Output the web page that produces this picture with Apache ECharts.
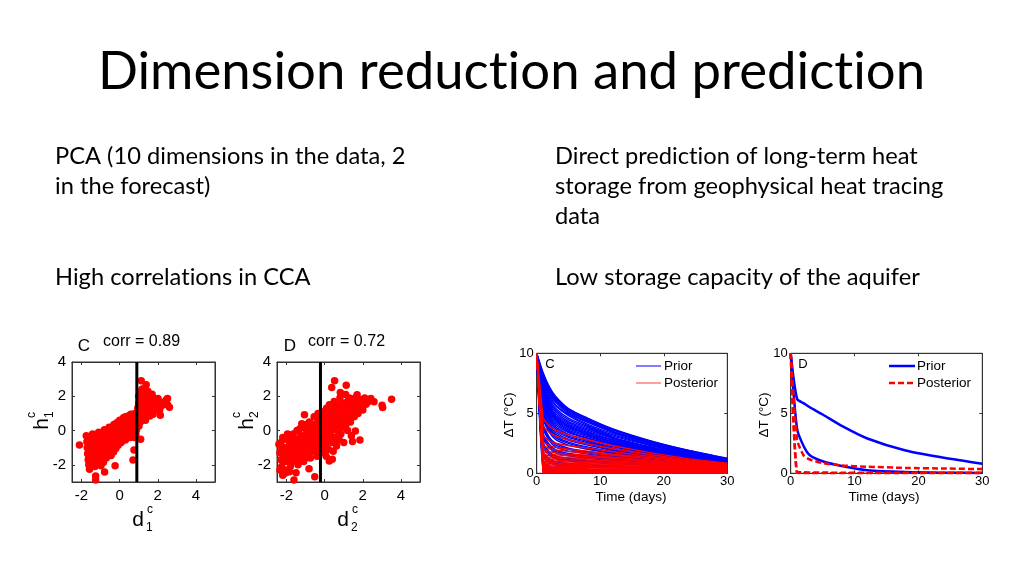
<!DOCTYPE html>
<html><head><meta charset="utf-8">
<script src="https://cdn.jsdelivr.net/npm/echarts@6/dist/echarts.min.js"></script>
<style>html,body{margin:0;padding:0;background:#fff}#c{width:1024px;height:576px}</style>
</head><body><div id="c"></div>
<script>
// ---------------- texts ----------------
const titleText = 'Dimension reduction and prediction';
const leftLines = ['PCA (10 dimensions in the data, 2', 'in the forecast)'];
const leftNote = 'High correlations in CCA';
const rightLines = ['Direct prediction of long-term heat', 'storage from geophysical heat tracing', 'data'];
const rightNote = 'Low storage capacity of the aquifer';
const panelC = 'C', panelD = 'D';
const corrC = 'corr = 0.89', corrD = 'corr = 0.72';
const timeLabel = 'Time (days)';
const dTLabel = '\u0394T (\u00B0C)';
const legendPrior = 'Prior', legendPosterior = 'Posterior';

// ---------------- scatter data (canonical variates) ----------------
const scatterC = [
[-2.11,-0.84],[-1.75,-0.3],[-1.72,-0.65],[-1.7,-1.0],[-1.68,-1.35],[-1.65,-1.7],[-1.62,-2.0],[-1.58,-2.26],
[-1.55,-0.5],[-1.52,-0.85],[-1.5,-1.2],[-1.48,-1.55],[-1.45,-1.9],[-1.42,-0.2],[-1.4,-0.6],[-1.38,-1.05],
[-1.35,-1.4],[-1.32,-1.75],[-1.3,-2.1],[-1.26,-2.65],[-1.26,-2.88],[-1.25,-0.35],[-1.22,-0.8],[-1.2,-1.2],
[-1.18,-1.6],[-1.15,-1.95],[-1.1,-0.1],[-1.08,-0.55],[-1.05,-1.0],[-1.02,-1.4],[-1.0,-1.75],[-0.98,-2.05],
[-0.95,-0.3],[-0.92,-0.75],[-0.9,-1.15],[-0.88,-1.55],[-0.85,-1.85],[-0.79,-2.42],[-0.8,0.05],[-0.78,-0.45],
[-0.75,-0.9],[-0.72,-1.3],[-0.7,-1.6],[-0.65,-0.15],[-0.62,-0.6],[-0.6,-1.05],[-0.58,-1.4],[-0.55,0.2],
[-0.52,-0.3],[-0.5,-0.8],[-0.48,-1.2],[-0.45,-1.45],[-0.4,0.1],[-0.38,-0.45],[-0.35,-0.95],[-0.32,-1.25],
[-0.3,0.35],[-0.25,-0.15],[-0.24,-2.05],[-0.22,-0.65],[-0.2,-1.05],[-0.15,0.45],[-0.12,0.05],[-0.1,-0.4],
[-0.08,-0.85],[0.0,0.6],[0.02,0.2],[0.05,-0.25],[0.08,-0.7],[0.12,0.45],[0.15,0.05],[0.18,-0.4],
[0.2,0.75],[0.25,0.3],[0.28,-0.1],[0.3,-0.55],[0.35,0.6],[0.4,0.2],[0.42,-0.25],[0.45,0.85],
[0.5,0.45],[0.52,0.0],[0.55,-0.4],[0.6,0.7],[0.62,0.3],[0.65,-0.1],[0.7,0.95],[0.7,-1.72],
[0.72,0.5],[0.75,0.1],[0.75,-1.13],[0.78,-0.4],[0.8,0.8],[0.82,1.0],[0.85,0.35],[0.85,-0.2],
[-1.6,-0.4],[-1.6,-1.15],[-1.55,-1.45],[-1.45,-0.35],[-1.45,-1.05],[-1.4,-1.65],[-1.35,-0.45],[-1.3,-0.95],
[-1.3,-1.25],[-1.2,-0.5],[-1.15,-0.95],[-1.12,-1.35],[-1.1,-1.7],[-1.05,-0.3],[-1.0,-0.75],[-0.98,-1.2],
[-0.9,-0.5],[-0.85,-1.0],[-0.82,-1.35],[-0.75,-0.2],[-0.72,-0.65],[-0.68,-1.1],[-0.62,-1.45],[-0.6,-0.35],
[-0.55,-0.75],[-0.52,-1.1],[-0.45,-0.15],[-0.42,-0.6],[-0.4,-1.05],[-0.35,0.2],[-0.3,-0.3],[-0.28,-0.8],
[-0.2,0.15],[-0.18,-0.35],[-0.15,-0.75],[-0.05,0.3],[-0.02,-0.15],[0.0,-0.55],[0.08,0.4],[0.1,-0.1],
[0.12,-0.45],[0.22,0.5],[0.22,0.05],[0.3,0.8],[0.32,0.1],[0.38,-0.3],[0.45,0.6],[0.48,0.2],
[0.58,0.95],[0.6,0.05],[0.68,0.6],[0.7,-0.3],[0.78,0.6],[0.8,0.2],[0.88,0.9],[0.88,0.05],
[0.95,1.3],[0.95,0.6],[1.0,2.0],[1.01,0.27],[1.02,1.7],[1.05,1.0],[1.1,-0.51],[1.1,2.3],
[1.12,1.45],[1.13,2.9],[1.15,0.7],[1.18,2.42],[1.2,1.64],[1.22,1.15],[1.25,1.95],[1.27,0.9],
[1.3,1.4],[1.32,2.15],[1.35,0.6],[1.39,2.67],[1.4,1.7],[1.42,1.1],[1.44,1.83],[1.5,1.45],
[1.51,1.25],[1.55,2.0],[1.58,0.85],[1.6,1.6],[1.65,1.2],[1.7,2.12],[1.72,1.75],[1.75,0.95],
[1.79,1.44],[1.85,1.85],[1.9,1.3],[1.95,1.6],[2.01,1.87],[2.04,1.54],[2.1,1.2],[2.13,0.9],
[2.51,1.87],[2.51,1.5],[2.61,1.36],
[0.98,1.05],[1.0,1.5],[1.05,1.8],[1.08,0.5],[1.12,1.2],[1.15,2.0],[1.2,0.95],[1.25,1.6],
[1.28,2.4],[1.3,1.05],[1.35,1.85],[1.38,1.3],[1.45,1.5],[1.48,2.3],[1.52,1.0],[1.58,1.75],
[1.62,1.35],[1.68,1.9],[1.7,1.5],[1.78,1.6],[1.82,1.2],[1.88,1.55],[1.98,1.4],[2.05,1.7],
[2.2,1.45],[2.3,1.65],[2.45,1.8]
];
const cutC = 0.9;

const scatterD = [
[-2.4,-0.8],[-2.35,-1.3],[-2.3,-1.7],[-2.29,-0.7],[-2.25,-2.1],[-2.2,-1.0],[-2.15,-1.5],[-2.1,-2.3],
[-2.03,-2.46],[-2.0,-0.5],[-1.95,-1.2],[-1.9,-1.8],[-1.85,-0.8],[-1.8,-2.1],[-1.75,-1.4],[-1.7,-0.3],
[-1.65,-1.0],[-1.61,-2.88],[-1.6,-1.7],[-1.55,-0.6],[-1.5,-2.46],[-1.5,-1.25],[-1.45,0.0],[-1.4,-2.0],
[-1.35,-0.9],[-1.3,-1.5],[-1.25,-0.3],[-1.2,0.4],[-1.15,-1.1],[-1.1,-1.8],[-1.06,0.92],[-1.05,-0.6],
[-1.0,0.1],[-0.95,-1.4],[-0.9,-0.2],[-0.85,-0.9],[-0.82,-2.22],[-0.8,0.5],[-0.75,-1.6],[-0.7,-0.5],
[-0.65,0.2],[-0.6,-1.2],[-0.55,0.8],[-0.52,-2.69],[-0.5,-0.1],[-0.45,-0.8],[-0.4,-1.5],[-0.38,0.45],
[-0.35,1.0],[-0.3,-0.4],[-0.28,-1.1],[-0.25,0.15],[-0.2,0.7],[-0.15,-0.7],[-0.1,-1.3],[-0.08,0.3],
[-0.05,1.1],[0.0,-0.2],[0.02,0.6],[0.05,-0.9],[0.08,-1.5],[0.1,1.3],[0.12,0.1],[0.15,0.9],
[0.18,-0.5],[0.2,-1.1],[0.22,0.4],[0.24,-1.77],[0.25,1.5],[0.3,-0.1],[0.32,0.75],[0.35,-0.7],
[0.37,2.51],[0.38,1.2],[0.4,-1.68],[0.42,0.2],[0.45,-1.2],[0.5,1.7],[0.52,2.9],[0.52,0.55],
[0.55,-0.4],[0.6,1.0],[0.62,-0.9],[0.65,0.0],[0.7,1.4],[0.72,0.4],[0.75,-0.5],[0.8,1.9],
[0.82,2.22],[0.82,0.8],[0.85,-0.2],[0.9,1.2],[0.95,0.2],[1.0,1.6],[1.0,-0.7],[1.05,0.7],
[1.1,2.1],[1.13,2.65],[1.15,1.0],[1.2,0.0],[1.25,1.4],[1.3,1.9],[1.35,0.5],[1.4,-0.3],
[1.45,1.2],[1.46,-0.64],[1.5,1.7],[1.55,0.8],[1.61,-0.02],[1.65,1.5],[1.7,2.09],[1.75,1.0],
[1.8,1.8],[1.85,-0.55],[1.9,1.3],[2.0,1.6],[2.1,1.9],[2.17,1.54],[2.3,1.7],[2.42,1.87],
[2.59,1.68],[3.01,1.48],[3.04,1.35],[3.51,1.83],
[-2.3,-1.2],[-2.2,-0.4],[-2.1,-1.8],[-2.05,-1.0],[-1.95,-0.2],[-1.9,-1.5],[-1.8,-0.6],[-1.75,-1.1],
[-1.7,-1.8],[-1.65,-0.2],[-1.6,-0.9],[-1.55,-1.4],[-1.45,-0.5],[-1.4,-1.1],[-1.35,-1.8],[-1.3,0.1],
[-1.25,-0.7],[-1.2,-1.3],[-1.1,-0.3],[-1.05,-1.0],[-1.0,-1.6],[-0.95,0.35],[-0.9,-0.6],[-0.85,-1.25],
[-0.8,-0.1],[-0.75,-0.8],[-0.7,0.15],[-0.65,-1.0],[-0.6,-0.3],[-0.55,0.35],[-0.5,-0.6],[-0.45,-1.25],
[-0.4,0.1],[-0.35,-0.4],[-0.3,0.6],[-0.25,-0.9],[-0.2,0.0],[-0.15,0.9],[-0.1,-0.45],[-0.05,0.5],
[0.0,-1.1],[0.05,0.2],[0.1,-0.6],[0.15,1.1],[0.2,0.5],[0.25,-0.3],[0.3,1.0],[0.35,0.3],
[0.4,-0.4],[0.45,1.3],[0.5,0.2],[0.55,0.8],[0.6,1.5],[0.65,-0.6],[0.7,0.7],[0.75,1.1],
[0.8,0.3],[0.9,1.6],[0.95,0.6],[1.05,1.3],[1.1,0.3],[1.2,1.7],[1.25,0.7],[1.35,1.1],
[1.4,1.6],[1.55,1.3],[1.6,1.9],[1.7,1.2],[1.85,1.55],[1.95,1.8],[2.0,1.2],[2.2,1.75],
[-2.35,-2.3],[-1.85,-2.4],[-2.2,-2.6]
];
const cutD = -0.22;

// ---------------- temperature curves ----------------
const timeDays = [0, 1, 2, 3, 5, 8, 12, 18, 24, 30];
const priorC = [
[10,8.4,7.2,6.4,5.4,4.6,3.7,2.7,1.9,1.25],
[10,8.3,7.1,6.3,5.35,4.55,3.65,2.65,1.88,1.22],
[10,8.2,7.0,6.2,5.3,4.5,3.6,2.6,1.85,1.2],
[10,8.1,6.9,6.1,5.2,4.4,3.5,2.55,1.8,1.18],
[10,8.0,6.8,6.0,5.1,4.3,3.4,2.5,1.75,1.15],
[10,7.9,6.6,5.9,5.0,4.25,3.45,2.5,1.78,1.18],
[10,7.8,6.5,5.7,4.9,4.1,3.3,2.4,1.7,1.1],
[10,7.7,6.4,5.6,4.8,4.0,3.2,2.35,1.65,1.08],
[10,7.5,6.2,5.4,4.6,3.9,3.1,2.3,1.6,1.05],
[10,7.35,6.05,5.25,4.45,3.8,3.0,2.2,1.55,1.02],
[10,7.2,5.9,5.1,4.3,3.7,2.95,2.15,1.5,1.0],
[10,7.1,5.75,4.95,4.2,3.6,2.9,2.1,1.48,0.98],
[10,7.0,5.6,4.8,4.1,3.5,2.8,2.05,1.45,0.95],
[10,6.9,5.5,4.7,4.0,3.4,2.75,2.0,1.4,0.92],
[10,6.8,5.4,4.6,3.9,3.3,2.65,1.95,1.38,0.9],
[10,6.7,5.3,4.5,3.8,3.25,2.6,1.9,1.35,0.9],
[10,6.55,5.15,4.4,3.7,3.15,2.5,1.85,1.32,0.88],
[10,6.4,5.0,4.3,3.6,3.05,2.45,1.8,1.3,0.88],
[10,6.2,4.85,4.15,3.5,2.95,2.38,1.75,1.25,0.86],
[10,6.0,4.7,4.0,3.4,2.9,2.3,1.7,1.2,0.85],
[10,5.85,4.55,3.85,3.25,2.75,2.2,1.65,1.18,0.82],
[10,5.7,4.4,3.7,3.1,2.65,2.1,1.6,1.15,0.8],
[10,5.5,4.2,3.55,3.0,2.55,2.05,1.55,1.1,0.78],
[10,5.3,4.0,3.4,2.85,2.45,1.95,1.45,1.05,0.75],
[10,5.15,3.85,3.25,2.75,2.35,1.9,1.4,1.02,0.72],
[10,5.0,3.7,3.1,2.6,2.2,1.8,1.35,1.0,0.7],
[10,4.8,3.55,2.95,2.5,2.1,1.72,1.3,0.98,0.7],
[10,4.6,3.4,2.8,2.35,2.0,1.65,1.25,0.95,0.68],
[10,4.2,3.0,2.5,2.1,1.8,1.5,1.15,0.9,0.65],
[10,4.0,2.85,2.35,2.0,1.7,1.42,1.1,0.86,0.62],
[10,3.8,2.7,2.2,1.85,1.6,1.35,1.05,0.82,0.6],
[10,3.4,2.4,1.95,1.65,1.45,1.2,0.95,0.75,0.55],
[10,3.2,2.25,1.82,1.55,1.35,1.12,0.9,0.72,0.52],
[10,3.0,2.1,1.7,1.45,1.25,1.05,0.85,0.68,0.5],
[10,2.6,1.8,1.45,1.25,1.1,0.92,0.75,0.6,0.45],
[10,2.4,1.65,1.32,1.15,1.0,0.86,0.7,0.56,0.42],
[10,2.2,1.5,1.2,1.05,0.92,0.8,0.65,0.52,0.4],
[10,1.8,1.2,0.95,0.82,0.72,0.62,0.52,0.42,0.33],
[10,1.6,1.05,0.82,0.7,0.62,0.54,0.45,0.36,0.29],
[10,1.4,0.9,0.7,0.6,0.52,0.45,0.38,0.3,0.25],
[10,1.0,0.6,0.45,0.38,0.33,0.28,0.23,0.19,0.15],
[10,0.8,0.45,0.32,0.26,0.22,0.19,0.16,0.13,0.1],
[10,0.6,0.3,0.2,0.15,0.12,0.1,0.08,0.06,0.05],
[10,0.2,0.05,0.02,0.01,0,0,0,0,0]
];
const posteriorC = [
[10,4.6,3.9,3.6,3.2,2.8,2.3,1.7,1.2,0.85],
[10,3.9,3.4,3.1,2.8,2.45,2.05,1.55,1.12,0.8],
[10,3.1,2.7,2.5,2.3,2.1,1.8,1.4,1.05,0.75],
[10,2.6,2.3,2.15,2.0,1.85,1.6,1.3,0.98,0.72],
[10,2.3,2.05,1.95,1.82,1.7,1.5,1.2,0.92,0.68],
[10,2.0,1.8,1.7,1.6,1.5,1.35,1.1,0.85,0.64],
[10,1.8,1.62,1.55,1.46,1.38,1.25,1.02,0.8,0.6],
[10,1.6,1.45,1.38,1.3,1.24,1.12,0.95,0.75,0.56],
[10,1.45,1.3,1.24,1.18,1.12,1.02,0.86,0.7,0.53],
[10,1.3,1.17,1.1,1.05,1.0,0.92,0.8,0.65,0.5],
[10,1.15,1.04,0.98,0.94,0.9,0.83,0.72,0.6,0.47],
[10,1.0,0.92,0.87,0.83,0.8,0.74,0.65,0.55,0.44],
[10,0.9,0.82,0.78,0.74,0.71,0.66,0.58,0.5,0.4],
[10,0.78,0.71,0.68,0.65,0.62,0.58,0.52,0.45,0.37],
[10,0.68,0.62,0.59,0.56,0.54,0.5,0.45,0.4,0.34],
[10,0.58,0.53,0.5,0.48,0.46,0.43,0.39,0.35,0.3],
[10,0.48,0.44,0.42,0.4,0.38,0.36,0.33,0.3,0.26],
[10,0.4,0.36,0.34,0.32,0.31,0.29,0.27,0.24,0.22],
[10,0.32,0.29,0.27,0.26,0.25,0.23,0.21,0.19,0.17],
[10,0.25,0.22,0.2,0.19,0.18,0.17,0.16,0.14,0.13],
[10,0.18,0.16,0.15,0.14,0.13,0.12,0.11,0.1,0.09],
[10,0.1,0.09,0.08,0.07,0.07,0.06,0.06,0.05,0.05],
[10,0.04,0.03,0.02,0.02,0.01,0.01,0.01,0.01,0.01]
];
const priorD = [
[10,6.2,5.85,5.5,4.9,3.95,2.9,1.9,1.3,0.8],
[10,3.7,2.3,1.5,1.0,0.6,0.25,0.1,0.05,0.03]
];
const posteriorD = [
[10,2.8,1.5,1.15,0.85,0.65,0.55,0.45,0.4,0.35],
[10,0.12,0.08,0.07,0.06,0.05,0.05,0.05,0.05,0.05],
[10,0.02,0.01,0,0,0,0,0,0,0]
];

// keep glyphs un-ligated (the slide font has no "ti"/"fi" ligatures)
(function () {
  const P = CanvasRenderingContext2D.prototype, of = P.fillText;
  P.fillText = function () { try { this.textRendering = 'optimizeSpeed'; this.letterSpacing = '0.01px'; } catch (e) {} return of.apply(this, arguments); };
})();

// ---------------- layout helpers ----------------
const mctx = document.createElement('canvas').getContext('2d');
function fitSize(text, fam, w) { mctx.font = '100px ' + fam; return 100 * w / mctx.measureText(text).width; }
const SLIDE_FONT = 'Lato';
const titleSize = fitSize(titleText, SLIDE_FONT, 829);
const bodySize = fitSize(rightLines[0], SLIDE_FONT, 363);
const AX_FONT = 'Liberation Sans, Arial, sans-serif';

function txt(x, y, t, size, opt) {
  opt = opt || {};
  return { type: 'text', x: x, y: y, rotation: opt.rot || 0, silent: true, z: 100,
    style: { text: t, fontSize: size, fontFamily: opt.font || AX_FONT, fill: '#000',
      textAlign: opt.align || 'left', textVerticalAlign: 'middle' } };
}

const grids = [
  { left: 72, top: 362, width: 143, height: 120 },
  { left: 277, top: 362, width: 143, height: 120 },
  { left: 536.7, top: 353.3, width: 190.6, height: 120 },
  { left: 790.7, top: 353.3, width: 191.6, height: 120 }
].map(g => Object.assign({ show: true, borderColor: '#333', borderWidth: 1, backgroundColor: '#fff' }, g));

const xAxes = [], yAxes = [];
function addAxes(gi, xr, yr, fontSize, tickLen, xMargin, yMargin, xInt, yInt) {
  const common = { gridIndex: gi, type: 'value', splitLine: { show: false },
    axisLine: { show: true, onZero: false, lineStyle: { color: '#333', width: 1 } },
    axisTick: { show: true, inside: true, length: tickLen, lineStyle: { color: '#333' } } };
  const xb = Object.assign({}, common, { position: 'bottom', min: xr[0], max: xr[1],
    axisLabel: { fontSize: fontSize, color: '#000', fontFamily: AX_FONT, margin: xMargin, showMinLabel: xr[2], showMaxLabel: xr[3] } });
  const yb = Object.assign({}, common, { position: 'left', min: yr[0], max: yr[1],
    axisLabel: { fontSize: fontSize, color: '#000', fontFamily: AX_FONT, margin: yMargin, showMinLabel: yr[2], showMaxLabel: yr[3] } });
  if (xInt) xb.interval = xInt; else xb.splitNumber = 4;
  if (yInt) yb.interval = yInt; else yb.splitNumber = 4;
  const xt = Object.assign({}, xb, { position: 'top', axisLabel: { show: false } });
  const yr2 = Object.assign({}, yb, { position: 'right', axisLabel: { show: false } });
  xAxes.push(xb, xt); yAxes.push(yb, yr2);
}
addAxes(0, [-2.5, 5, false, false], [-3, 4, false, true], 15, 3, 6, 6);
addAxes(1, [-2.5, 5, false, false], [-3, 4, false, true], 15, 3, 6, 6);
addAxes(2, [0, 30, true, true], [0, 10, true, true], 13, 3, 2, 3, 10, 5);
addAxes(3, [0, 30, true, true], [0, 10, true, true], 13, 3, 2, 3, 10, 5);

const series = [];
function scatterSeries(gi, pts, cut, yr) {
  series.push({ type: 'scatter', xAxisIndex: 2 * gi, yAxisIndex: 2 * gi, data: pts, symbolSize: 7.5,
    itemStyle: { color: '#ff0000', opacity: 1 }, silent: true, z: 2 });
  series.push({ type: 'line', xAxisIndex: 2 * gi, yAxisIndex: 2 * gi, data: [[cut, yr[0]], [cut, yr[1]]],
    symbol: 'none', lineStyle: { color: '#000', width: 3 }, silent: true, z: 3 });
}
scatterSeries(0, scatterC, cutC, [-3, 4]);
scatterSeries(1, scatterD, cutD, [-3, 4]);

function curveSeries(gi, curves, color, width, dash, z, smooth) {
  curves.forEach(c => series.push({ type: 'line', xAxisIndex: 2 * gi, yAxisIndex: 2 * gi,
    data: timeDays.map((t, i) => [t, c[i]]), symbol: 'none', smooth: smooth, silent: true, z: z,
    lineStyle: { color: color, width: width, type: dash ? [6, 3] : 'solid' } }));
}
curveSeries(2, priorC, '#0000ff', 1.4, false, 2, 0.25);
curveSeries(2, posteriorC, '#ff0000', 1.4, false, 3, false);
curveSeries(3, priorD, '#0000ff', 2.5, false, 2, 0.25);
curveSeries(3, posteriorD, '#ff0000', 2.5, true, 3, 0.2);

// ---------------- graphics (text) ----------------
const g = [];
g.push(txt(511.5, 72.5, titleText, titleSize, { font: SLIDE_FONT, align: 'center' }));
const lineYs = [156.5, 186.5, 216.5];
leftLines.forEach((t, i) => g.push(txt(55, lineYs[i], t, bodySize, { font: SLIDE_FONT })));
rightLines.forEach((t, i) => g.push(txt(555, lineYs[i], t, bodySize, { font: SLIDE_FONT })));
g.push(txt(55, 277.5, leftNote, bodySize, { font: SLIDE_FONT }));
g.push(txt(555, 277.5, rightNote, bodySize, { font: SLIDE_FONT }));

// scatter panel labels
g.push(txt(84, 346, panelC, 17, { align: 'center' }));
g.push(txt(103, 342, corrC, 16));
g.push(txt(290, 346, panelD, 17, { align: 'center' }));
g.push(txt(308, 342, corrD, 16));
function dName(x, sub) {
  g.push(txt(x, 520, 'd', 21, { align: 'center' }));
  g.push(txt(x + 9, 510, 'c', 12));
  g.push(txt(x + 8, 528, sub, 12));
}
dName(138, '1'); dName(343, '2');
function hName(x, sub) {
  g.push({ type: 'group', x: x, y: 424, rotation: Math.PI / 2, silent: true, children: [
    txt(0, 0, 'h', 21, { align: 'center' }),
    txt(6, -10, 'c', 12),
    txt(6, 8, sub, 12)
  ] });
}
hName(42, '1'); hName(247, '2');

// line chart labels
g.push(txt(550, 364, panelC, 13, { align: 'center' }));
g.push(txt(803, 364, panelD, 13, { align: 'center' }));
g.push(txt(631, 497, timeLabel, 13.5, { align: 'center' }));
g.push(txt(884, 497, timeLabel, 13.5, { align: 'center' }));
g.push(txt(509, 415, dTLabel, 13.5, { align: 'center', rot: Math.PI / 2 }));
g.push(txt(764, 415, dTLabel, 13.5, { align: 'center', rot: Math.PI / 2 }));
function seg(x1, x2, y, color, w, dash) {
  return { type: 'line', silent: true, z: 100, shape: { x1: x1, y1: y, x2: x2, y2: y },
    style: { stroke: color, lineWidth: w, lineDash: dash ? [6, 3] : null } };
}
g.push(seg(636, 661, 366, '#0000ff', 1, false));
g.push(seg(636, 661, 383, '#ff6060', 1.2, false));
g.push(txt(664, 366, legendPrior, 13.5));
g.push(txt(664, 383, legendPosterior, 13.5));
g.push(seg(889, 915, 366, '#0000ff', 2.5, false));
g.push(seg(889, 915, 383, '#ff0000', 2.5, true));
g.push(txt(917, 366, legendPrior, 13.5));
g.push(txt(917, 383, legendPosterior, 13.5));

const chart = echarts.init(document.getElementById('c'), null, { renderer: 'canvas' });
chart.setOption({
  animation: false,
  backgroundColor: '#fff',
  grid: grids,
  xAxis: xAxes,
  yAxis: yAxes,
  series: series,
  graphic: { elements: g }
});
</script></body></html>
